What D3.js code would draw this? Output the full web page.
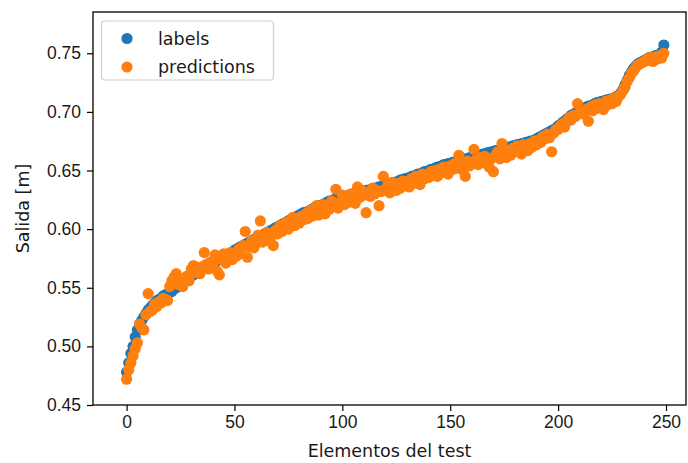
<!DOCTYPE html>
<html>
<head>
<meta charset="utf-8">
<script src="https://cdn.jsdelivr.net/npm/d3@7"></script>
<style>
  html, body { margin: 0; padding: 0; background: #fff; }
  svg { display: block; font-family: "DejaVu Sans", sans-serif; }
</style>
</head>
<body>
<div id="chart"></div>
<script>
'use strict';

// sorted ground truth (blue)
var labels = [
    0.478, 0.486, 0.494, 0.500, 0.508, 0.514, 0.519, 0.522, 0.525, 0.528,
    0.531, 0.533, 0.535, 0.537, 0.539, 0.540, 0.541, 0.543, 0.544, 0.545,
    0.546, 0.547, 0.549, 0.550, 0.551, 0.553, 0.554, 0.556, 0.557, 0.559,
    0.560, 0.561, 0.562, 0.564, 0.565, 0.566, 0.567, 0.568, 0.569, 0.570,
    0.571, 0.572, 0.573, 0.574, 0.575, 0.576, 0.577, 0.578, 0.579, 0.580,
    0.582, 0.583, 0.584, 0.585, 0.586, 0.587, 0.588, 0.589, 0.590, 0.591,
    0.592, 0.593, 0.594, 0.595, 0.596, 0.597, 0.598, 0.599, 0.600, 0.601,
    0.602, 0.603, 0.604, 0.605, 0.606, 0.607, 0.608, 0.609, 0.610, 0.611,
    0.612, 0.613, 0.614, 0.614, 0.615, 0.616, 0.617, 0.618, 0.619, 0.620,
    0.620, 0.621, 0.622, 0.623, 0.624, 0.624, 0.625, 0.626, 0.626, 0.627,
    0.627, 0.628, 0.628, 0.629, 0.629, 0.630, 0.630, 0.631, 0.631, 0.632,
    0.632, 0.633, 0.633, 0.634, 0.634, 0.635, 0.635, 0.636, 0.636, 0.637,
    0.637, 0.638, 0.638, 0.639, 0.640, 0.640, 0.641, 0.642, 0.642, 0.643,
    0.643, 0.644, 0.645, 0.645, 0.646, 0.647, 0.647, 0.648, 0.649, 0.649,
    0.650, 0.651, 0.651, 0.652, 0.653, 0.653, 0.654, 0.655, 0.655, 0.656,
    0.656, 0.657, 0.657, 0.658, 0.658, 0.659, 0.659, 0.660, 0.660, 0.661,
    0.661, 0.662, 0.662, 0.663, 0.663, 0.664, 0.664, 0.665, 0.665, 0.666,
    0.666, 0.667, 0.667, 0.668, 0.668, 0.669, 0.669, 0.670, 0.670, 0.671,
    0.671, 0.672, 0.672, 0.673, 0.673, 0.674, 0.674, 0.675, 0.675, 0.676,
    0.677, 0.678, 0.679, 0.680, 0.681, 0.682, 0.683, 0.684, 0.685, 0.686,
    0.688, 0.689, 0.691, 0.692, 0.694, 0.695, 0.697, 0.698, 0.699, 0.700,
    0.701, 0.702, 0.703, 0.704, 0.705, 0.705, 0.706, 0.707, 0.708, 0.708,
    0.709, 0.709, 0.710, 0.710, 0.711, 0.711, 0.712, 0.713, 0.714, 0.716,
    0.719, 0.723, 0.727, 0.731, 0.734, 0.737, 0.739, 0.741, 0.742, 0.743,
    0.744, 0.745, 0.746, 0.746, 0.747, 0.748, 0.748, 0.749, 0.751, 0.757
];

// model output (orange)
var predictions = [
    0.472, 0.480, 0.486, 0.492, 0.498, 0.503, 0.519, 0.516, 0.514, 0.527,
    0.545, 0.530, 0.531, 0.536, 0.534, 0.538, 0.537, 0.541, 0.540, 0.539,
    0.551, 0.556, 0.559, 0.562, 0.553, 0.555, 0.551, 0.558, 0.560, 0.556,
    0.566, 0.569, 0.563, 0.567, 0.562, 0.568, 0.580, 0.570, 0.566, 0.572,
    0.569, 0.578, 0.564, 0.561, 0.574, 0.579, 0.571, 0.576, 0.580, 0.574,
    0.578, 0.577, 0.583, 0.579, 0.586, 0.598, 0.576, 0.585, 0.590, 0.584,
    0.588, 0.595, 0.607, 0.589, 0.592, 0.597, 0.590, 0.594, 0.586, 0.599,
    0.596, 0.603, 0.598, 0.601, 0.606, 0.600, 0.604, 0.610, 0.603, 0.607,
    0.605, 0.611, 0.608, 0.613, 0.609, 0.616, 0.611, 0.614, 0.620, 0.612,
    0.616, 0.621, 0.613, 0.619, 0.617, 0.624, 0.620, 0.634, 0.618, 0.623,
    0.629, 0.621, 0.625, 0.623, 0.630, 0.626, 0.622, 0.636, 0.627, 0.633,
    0.629, 0.614, 0.631, 0.628, 0.635, 0.630, 0.633, 0.620, 0.632, 0.645,
    0.634, 0.637, 0.631, 0.640, 0.636, 0.633, 0.639, 0.635, 0.641, 0.637,
    0.640, 0.636, 0.643, 0.639, 0.645, 0.641, 0.638, 0.647, 0.643, 0.646,
    0.644, 0.649, 0.646, 0.650, 0.645, 0.651, 0.648, 0.653, 0.650, 0.647,
    0.654, 0.651, 0.656, 0.652, 0.663, 0.655, 0.650, 0.645, 0.658, 0.654,
    0.657, 0.668, 0.659, 0.655, 0.661, 0.657, 0.662, 0.658, 0.653, 0.660,
    0.649, 0.663, 0.666, 0.660, 0.673, 0.664, 0.661, 0.667, 0.663, 0.669,
    0.666, 0.671, 0.668, 0.664, 0.672, 0.669, 0.667, 0.673, 0.670, 0.675,
    0.672, 0.676, 0.674, 0.679, 0.677, 0.681, 0.678, 0.666, 0.682, 0.685,
    0.685, 0.688, 0.690, 0.687, 0.692, 0.695, 0.693, 0.697, 0.696, 0.707,
    0.699, 0.701, 0.698, 0.702, 0.692, 0.704, 0.701, 0.706, 0.703, 0.707,
    0.705, 0.702, 0.709, 0.706, 0.710, 0.707, 0.712, 0.709, 0.713, 0.715,
    0.718, 0.721, 0.726, 0.729, 0.733, 0.735, 0.738, 0.740, 0.741, 0.742,
    0.743, 0.745, 0.744, 0.746, 0.743, 0.747, 0.745, 0.748, 0.746, 0.750
];

var xTicks = [0, 50, 100, 150, 200, 250];
var yTicks = [0.45, 0.50, 0.55, 0.60, 0.65, 0.70, 0.75];
var seriesNames = ['labels', 'predictions'];
var seriesColors = ['#1f77b4', '#ff7f0e'];

var W = 688, H = 463;
var plotLeft = 93, plotRight = 686, plotTop = 12, plotBottom = 405;
var fontSize = 17.5;
var r = 5.6;

var svg = d3.select('#chart').append('svg')
    .attr('width', W)
    .attr('height', H);

var x = d3.scaleLinear().domain([-15.57, 259.27]).range([plotLeft, plotRight]);
var y = d3.scaleLinear().domain([0.45, 0.7852]).range([plotBottom, plotTop]);

drawPoints(labels, seriesColors[0]);
drawPoints(predictions, seriesColors[1]);
drawAxes();
drawLegend();

////////////

function drawPoints(values, color) {
    svg.append('g')
        .selectAll('circle')
        .data(values)
        .enter()
        .append('circle')
        .attr('cx', function (d, i) { return x(i); })
        .attr('cy', function (d) { return y(d); })
        .attr('r', r)
        .attr('fill', color);
}

function drawAxes() {
    var xAxis = d3.axisBottom(x).tickValues(xTicks).tickSize(6).tickPadding(5);
    var yAxis = d3.axisLeft(y).tickValues(yTicks).tickSize(6).tickPadding(6)
        .tickFormat(d3.format('.2f'));

    var gx = svg.append('g')
        .attr('transform', 'translate(0,' + plotBottom + ')')
        .call(xAxis);
    var gy = svg.append('g')
        .attr('transform', 'translate(' + plotLeft + ',0)')
        .call(yAxis);

    [gx, gy].forEach(function (g) {
        g.select('.domain').remove();
        g.selectAll('line').attr('stroke', '#000').attr('stroke-width', 1.2);
        g.selectAll('text')
            .attr('fill', '#1a1a1a')
            .style('font-size', fontSize + 'px');
    });

    // frame
    svg.append('rect')
        .attr('x', plotLeft)
        .attr('y', plotTop)
        .attr('width', plotRight - plotLeft)
        .attr('height', plotBottom - plotTop)
        .attr('fill', 'none')
        .attr('stroke', '#000')
        .attr('stroke-width', 1.3);

    svg.append('text')
        .attr('x', (plotLeft + plotRight) / 2)
        .attr('y', 457)
        .attr('text-anchor', 'middle')
        .attr('fill', '#1a1a1a')
        .style('font-size', fontSize + 'px')
        .text('Elementos del test');

    svg.append('text')
        .attr('transform', 'translate(29,' + (plotTop + plotBottom) / 2 + ') rotate(-90)')
        .attr('text-anchor', 'middle')
        .attr('fill', '#1a1a1a')
        .style('font-size', fontSize + 'px')
        .text('Salida [m]');
}

function drawLegend() {
    var lg = svg.append('g');
    lg.append('rect')
        .attr('x', 101.5)
        .attr('y', 21)
        .attr('width', 172)
        .attr('height', 59)
        .attr('rx', 3.5)
        .attr('fill', '#fff')
        .attr('fill-opacity', 0.8)
        .attr('stroke', '#d0d0d0')
        .attr('stroke-width', 1.2);

    seriesNames.forEach(function (name, i) {
        var cy = 38.5 + i * 28.5;
        lg.append('circle')
            .attr('cx', 127)
            .attr('cy', cy)
            .attr('r', r)
            .attr('fill', seriesColors[i]);
        lg.append('text')
            .attr('x', 158)
            .attr('y', cy + 6)
            .attr('fill', '#1a1a1a')
            .style('font-size', fontSize + 'px')
            .text(name);
    });
}
</script>
</body>
</html>
